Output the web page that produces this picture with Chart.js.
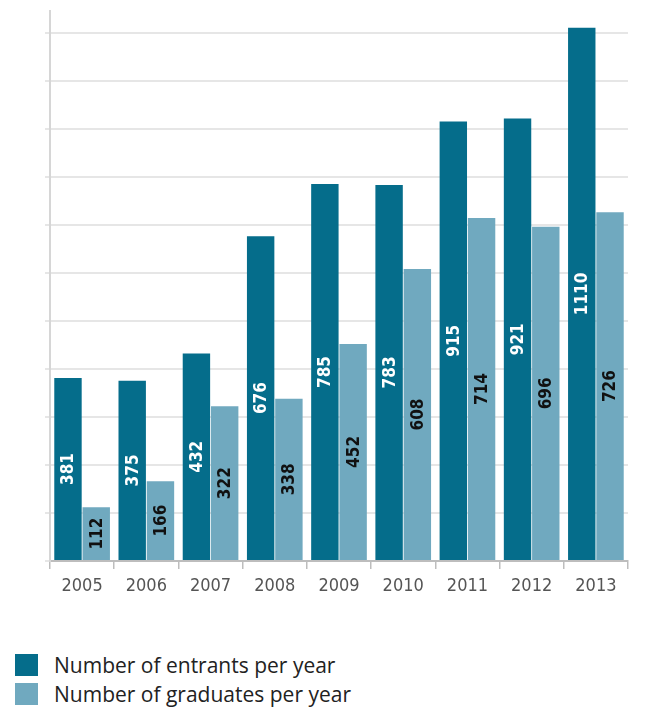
<!DOCTYPE html>
<html>
<head>
<meta charset="utf-8">
<script src="https://cdn.jsdelivr.net/npm/chart.js@4/dist/chart.umd.min.js"></script>
<style>
  body { margin: 0; background: #fff; }
  #wrap { position: relative; width: 645px; height: 708px; }
  #chart-box { position: absolute; left: 0; top: 0; width: 645px; height: 620px; }
  #legend { position: absolute; left: 15px; top: 650px; font-family: 'Open Sans', Roboto, sans-serif; font-size: 21px; color: #222; }
  .legend-row { display: flex; align-items: center; height: 29px; }
  .legend-swatch { width: 23px; height: 22px; margin-right: 16px; }
</style>
</head>
<body>
<div id="wrap">
  <div id="chart-box"><canvas id="bars"></canvas></div>
  <div id="legend"></div>
</div>
<script>
const years = ['2005', '2006', '2007', '2008', '2009', '2010', '2011', '2012', '2013'];
const entrants = [381, 375, 432, 676, 785, 783, 915, 921, 1110];
const graduates = [112, 166, 322, 338, 452, 608, 714, 696, 726];
const seriesNames = ['Number of entrants per year', 'Number of graduates per year'];
const seriesColors = ['#056d8b', '#70a9bf'];
const labelColors = ['#ffffff', '#111111'];

const narrow = "'DejaVu Sans Condensed', 'DejaVu Sans', sans-serif";

// writes each bar's value, rotated, in the middle of the bar
const valueLabels = {
    id: 'valueLabels',
    afterDatasetsDraw(chart) {
        const ctx = chart.ctx;
        chart.data.datasets.forEach((ds, i) => {
            chart.getDatasetMeta(i).data.forEach((bar, j) => {
                const mid = (bar.y + bar.base) / 2;
                ctx.save();
                ctx.translate(bar.x, mid);
                ctx.rotate(-Math.PI / 2);
                ctx.font = 'bold 17px ' + narrow;
                ctx.fillStyle = labelColors[i];
                ctx.textAlign = 'center';
                ctx.textBaseline = 'middle';
                ctx.fillText(String(ds.data[j]), 0, 1);
                ctx.restore();
            });
        });
    }
};

const chart = new Chart(document.getElementById('bars'), {
    type: 'bar',
    data: {
        labels: years,
        datasets: [
            { label: seriesNames[0], data: entrants, backgroundColor: seriesColors[0] },
            { label: seriesNames[1], data: graduates, backgroundColor: seriesColors[1] }
        ]
    },
    options: {
        responsive: true,
        maintainAspectRatio: false,
        animation: false,
        categoryPercentage: 0.88,
        barPercentage: 0.97,
        layout: { padding: { top: 11, right: 17, left: 0, bottom: 0 } },
        plugins: {
            legend: { display: false },
            tooltip: { enabled: false }
        },
        scales: {
            x: {
                grid: {
                    drawOnChartArea: false,
                    drawTicks: true,
                    tickLength: 8,
                    color: '#bdbdbd',
                    lineWidth: 1.5
                },
                border: { color: '#bdbdbd', width: 2 },
                ticks: {
                    color: '#555',
                    font: { family: narrow, size: 18 },
                    padding: 7
                },
                afterFit(scale) { scale.height = 59; }
            },
            y: {
                min: 0,
                max: 1145,
                grid: {
                    color: '#e6e6e6',
                    lineWidth: 2,
                    drawTicks: true,
                    tickLength: 5
                },
                border: { color: '#d6d6d6', width: 2 },
                ticks: {
                    stepSize: 100,
                    includeBounds: false,
                    callback: () => ''
                },
                afterFit(scale) { scale.width = 50; }
            }
        }
    },
    plugins: [valueLabels]
});

// legend built from the chart's own datasets
const legend = document.getElementById('legend');
chart.data.datasets.forEach(ds => {
    const row = document.createElement('div');
    row.className = 'legend-row';
    const sw = document.createElement('div');
    sw.className = 'legend-swatch';
    sw.style.background = ds.backgroundColor;
    const txt = document.createElement('span');
    txt.innerText = ds.label;
    row.appendChild(sw);
    row.appendChild(txt);
    legend.appendChild(row);
});
</script>
</body>
</html>
